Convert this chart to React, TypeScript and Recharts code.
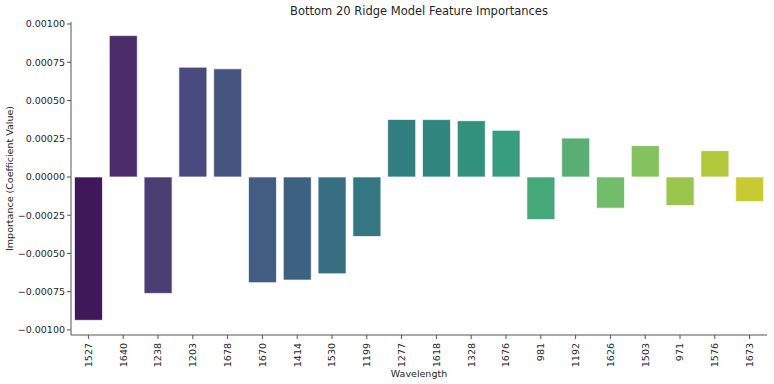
import React from "react"
import { Bar, BarChart, Cell, XAxis, YAxis, Label } from "recharts"

// wavelengths in the order they are plotted
const wavelengths = [
    "1527", "1640", "1238", "1203", "1678", "1670", "1414", "1530", "1199", "1277",
    "1618", "1328", "1676", "981", "1192", "1626", "1503", "971", "1576", "1673",
]

// ridge coefficients
const importances = [
    -0.000937, 0.000924, -0.000761, 0.000718, 0.000707, -0.000691, -0.000674, -0.000633, -0.000389, 0.000376,
    0.000375, 0.000368, 0.000305, -0.000278, 0.000254, -0.000204, 0.000205, -0.000187, 0.000172, -0.000161,
]

const yTicks = [-0.001, -0.00075, -0.0005, -0.00025, 0, 0.00025, 0.0005, 0.00075, 0.001]

// viridis, 20 steps, desaturated like seaborn bars
const palette = [
    "#3e1859", "#492c69", "#4a3f73", "#4a4a7e", "#465480", "#425d81", "#3d6281", "#386e81", "#347681", "#307e7f",
    "#2f877e", "#31917d", "#389d7c", "#46a878", "#5aad73", "#71bd6b", "#84c25e", "#9ac64d", "#b1c83b", "#c8ca32",
]

const data = wavelengths.map((w, i) => ({ wavelength: w, importance: importances[i] }))

const FONT = "'DejaVu Sans', sans-serif"
const TEXT = "#262626"
const AXIS = "#555555"

const fmt = (v: number) => {
    const s = Math.abs(v).toFixed(5)
    return v < 0 ? "\u2212" + s : s
}

const RotTick = (props: any) => {
    const { x, y, payload } = props
    return (
        <text
            x={x}
            y={y}
            transform={`rotate(-90 ${x} ${y})`}
            textAnchor="end"
            dy="0.35em"
            fontSize={9.5}
            fontFamily={FONT}
            fill={TEXT}
        >
            {payload.value}
        </text>
    )
}

export default function App() {
    const domain: [number, number] = [-0.001033, 0.001013]
    return (
        <div style={{ position: "absolute", left: 0, top: 0, width: 774, height: 384, background: "#fff" }}>
            <div
                style={{
                    position: "absolute",
                    left: 71,
                    width: 696,
                    top: 4,
                    textAlign: "center",
                    fontFamily: FONT,
                    fontSize: 11.5,
                    color: TEXT,
                }}
            >
                Bottom 20 Ridge Model Feature Importances
            </div>
            <BarChart
                width={774}
                height={384}
                data={data}
                margin={{ top: 22, right: 7, left: 0, bottom: 0 }}
                barCategoryGap="10%"
            >
                <XAxis
                    dataKey="wavelength"
                    interval={0}
                    height={49}
                    tick={<RotTick />}
                    tickSize={4}
                    tickMargin={4}
                    axisLine={{ stroke: AXIS }}
                    tickLine={{ stroke: AXIS }}
                >
                    <Label
                        value="Wavelength"
                        position="insideBottom"
                        offset={7}
                        style={{ fontFamily: FONT, fontSize: 9.5, fill: TEXT }}
                    />
                </XAxis>
                <XAxis xAxisId="top" dataKey="wavelength" orientation="top" height={0} tick={false} tickLine={false} axisLine={{ stroke: AXIS }} />
                <YAxis
                    width={71}
                    domain={domain}
                    ticks={yTicks}
                    tickFormatter={fmt}
                    tickSize={4}
                    tickMargin={2}
                    tick={{ fontFamily: FONT, fontSize: 9.5, fill: TEXT }}
                    axisLine={{ stroke: AXIS }}
                    tickLine={{ stroke: AXIS }}
                    allowDataOverflow
                >
                    <Label
                        value="Importance (Coefficient Value)"
                        angle={-90}
                        position="insideLeft"
                        offset={10}
                        style={{ textAnchor: "middle", fontFamily: FONT, fontSize: 9.5, fill: TEXT }}
                    />
                </YAxis>
                <YAxis yAxisId="right" orientation="right" width={0} domain={domain} tick={false} tickLine={false} axisLine={{ stroke: AXIS }} />
                <Bar dataKey="importance" isAnimationActive={false} stroke="#ffffff" strokeOpacity={0.7} strokeWidth={1}>
                    {data.map((d, i) => (
                        <Cell key={d.wavelength} fill={palette[i]} />
                    ))}
                </Bar>
            </BarChart>
        </div>
    )
}
